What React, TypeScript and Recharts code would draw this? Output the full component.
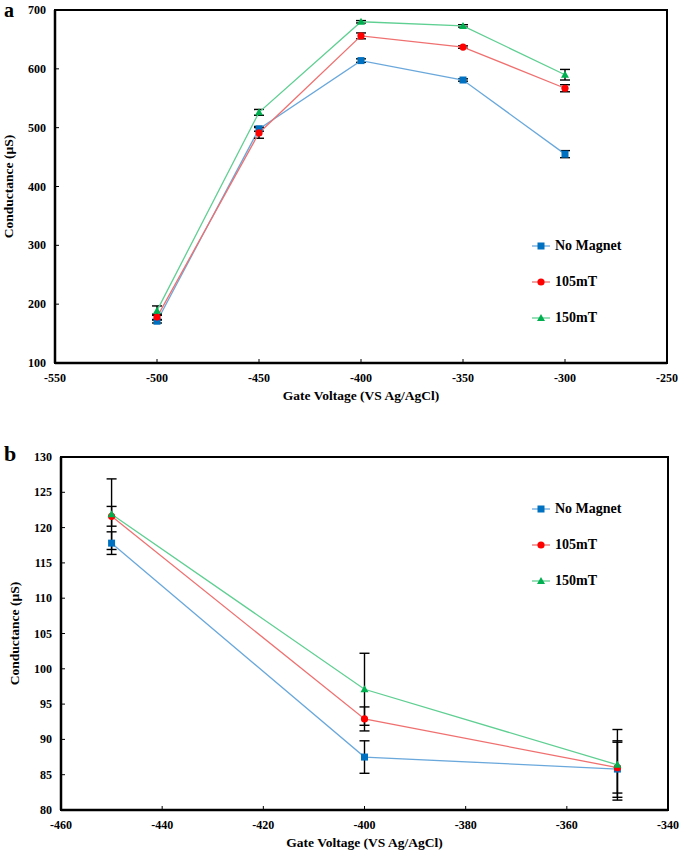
import { LineChart, Line, XAxis, YAxis, ErrorBar, ReferenceArea, Legend, Label } from "recharts";

// panel a
const voltagesA = [-500, -450, -400, -350, -300];
const noMagnetA = [171, 498, 614, 581, 455];
const noMagnetErrA = [3, 4, 3, 2, 6];
const mt105A = [178, 491, 656, 637, 567];
const mt105ErrA = [5, 9, 5, 2, 6];
const mt150A = [189, 526, 680, 673, 590];
const mt150ErrA = [8, 5, 2, 2, 9];
const xTicksA = [-550, -500, -450, -400, -350, -300, -250];
const yTicksA = [100, 200, 300, 400, 500, 600, 700];

// panel b
const voltagesB = [-450, -400, -350];
const noMagnetB = [117.8, 87.5, 85.8];
const noMagnetErrB = [1.6, 2.3, 4.0];
const mt105B = [121.6, 92.9, 86.0];
const mt105ErrB = [1.4, 1.7, 3.6];
const mt150B = [121.9, 97.1, 86.4];
const mt150ErrB = [5.0, 5.1, 5.0];
const xTicksB = [-460, -440, -420, -400, -380, -360, -340];
const yTicksB = [80, 85, 90, 95, 100, 105, 110, 115, 120, 125, 130];

const seriesNames = ["No Magnet", "105mT", "150mT"];

const FONT = "Liberation Serif, Times New Roman, serif";

const styles = [
  { line: "#6aa8dc", marker: "#0070c0", shape: "square" },
  { line: "#f07070", marker: "#ff0000", shape: "circle" },
  { line: "#5fcf92", marker: "#00b050", shape: "triangle" },
];

const toRows = (xs: number[], ys: number[], es: number[]) =>
  xs.map((x, i) => ({ x, y: ys[i], err: es[i] }));

function Marker({ cx, cy, shape, color }: { cx: number; cy: number; shape: string; color: string }) {
  if (shape === "square") return <rect x={cx - 3.5} y={cy - 3.5} width={7} height={7} fill={color} />;
  if (shape === "circle") return <circle cx={cx} cy={cy} r={3.6} fill={color} />;
  return <polygon points={`${cx},${cy - 4} ${cx - 4},${cy + 3} ${cx + 4},${cy + 3}`} fill={color} />;
}

const makeDot = (shape: string, color: string) => (props: any) =>
  <Marker key={`${props.cx}-${props.cy}`} cx={props.cx} cy={props.cy} shape={shape} color={color} />;

const XTick = (props: any) => {
  const { x, y, payload } = props;
  return (
    <g>
      <line x1={x} x2={x} y1={y} y2={y - 4} stroke="#000" strokeWidth={1} />
      <text x={x} y={y + 19} textAnchor="middle" fontFamily={FONT} fontWeight="bold" fontSize={12} fill="#000">
        {payload.value}
      </text>
    </g>
  );
};

const YTick = (props: any) => {
  const { x, y, payload } = props;
  return (
    <g>
      <line x1={x} x2={x + 4} y1={y} y2={y} stroke="#000" strokeWidth={1} />
      <text x={x - 9} y={y + 4} textAnchor="end" fontFamily={FONT} fontWeight="bold" fontSize={12} fill="#000">
        {payload.value}
      </text>
    </g>
  );
};

const LegendBox = () => (
  <div style={{ fontFamily: FONT, fontWeight: "bold", fontSize: 14, color: "#000" }}>
    {seriesNames.map((name, i) => (
      <div key={name} style={{ display: "flex", alignItems: "center", height: 36 }}>
        <svg width={20} height={12} style={{ marginRight: 4 }}>
          <line x1={1} x2={19} y1={6} y2={6} stroke={styles[i].line} strokeWidth={1.3} />
          <Marker cx={10} cy={6} shape={styles[i].shape} color={styles[i].marker} />
        </svg>
        <span>{name}</span>
      </div>
    ))}
  </div>
);

interface PanelProps {
  xs: number[];
  series: number[][];
  errs: number[][];
  xTicks: number[];
  yTicks: number[];
  width: number;
  height: number;
  margin: { top: number; right: number; bottom: number; left: number };
  legendPos: { left: number; top: number };
}

function Panel({ xs, series, errs, xTicks, yTicks, width, height, margin, legendPos }: PanelProps) {
  const xDomain = [xTicks[0], xTicks[xTicks.length - 1]];
  const yDomain = [yTicks[0], yTicks[yTicks.length - 1]];
  return (
    <LineChart width={width} height={height} margin={margin}>
      <XAxis
        type="number"
        dataKey="x"
        domain={xDomain}
        ticks={xTicks}
        allowDataOverflow
        height={40}
        tickSize={0}
        tickMargin={0}
        tickLine={false}
        tick={<XTick />}
        axisLine={{ stroke: "#000", strokeWidth: 2.5 }}
      >
        <Label
          value="Gate Voltage (VS Ag/AgCl)"
          position="insideBottom"
          offset={3}
          style={{ fontFamily: FONT, fontWeight: "bold", fontSize: 13.5, fill: "#000" }}
        />
      </XAxis>
      <YAxis
        type="number"
        domain={yDomain}
        ticks={yTicks}
        allowDataOverflow
        width={50}
        tickSize={0}
        tickMargin={0}
        tickLine={false}
        tick={<YTick />}
        axisLine={{ stroke: "#000", strokeWidth: 2.5 }}
      >
        <Label
          value="Conductance (µS)"
          angle={-90}
          position="insideLeft"
          offset={3}
          style={{ textAnchor: "middle", fontFamily: FONT, fontWeight: "bold", fontSize: 13.5, fill: "#000" }}
        />
      </YAxis>
      <ReferenceArea x1={xDomain[0]} x2={xDomain[1]} y1={yDomain[0]} y2={yDomain[1]} fill="none" stroke="#000" strokeWidth={2} />
      {series.map((vals, i) => (
        <Line
          key={seriesNames[i]}
          name={seriesNames[i]}
          data={toRows(xs, vals, errs[i])}
          dataKey="y"
          type="linear"
          stroke={styles[i].line}
          strokeWidth={1.3}
          dot={makeDot(styles[i].shape, styles[i].marker)}
          activeDot={false}
          isAnimationActive={false}
        >
          <ErrorBar dataKey="err" direction="y" width={5} stroke="#000" strokeWidth={1.4} isAnimationActive={false} />
        </Line>
      ))}
      <Legend
        layout="vertical"
        align="center"
        verticalAlign="middle"
        content={<LegendBox />}
        wrapperStyle={{ position: "absolute", left: legendPos.left, top: legendPos.top, width: "auto" }}
      />
    </LineChart>
  );
}

export default function App() {
  return (
    <div style={{ position: "absolute", left: 0, top: 0, width: 685, height: 853, background: "#fff" }}>
      <div style={{ position: "absolute", left: 4, top: 0, fontFamily: FONT, fontWeight: "bold", fontSize: 20, lineHeight: "20px" }}>a</div>
      <div style={{ position: "absolute", left: 0, top: 0 }}>
        <Panel
          xs={voltagesA}
          series={[noMagnetA, mt105A, mt150A]}
          errs={[noMagnetErrA, mt105ErrA, mt150ErrA]}
          xTicks={xTicksA}
          yTicks={yTicksA}
          width={685}
          height={420}
          margin={{ top: 10, right: 18, bottom: 17, left: 5 }}
          legendPos={{ left: 531, top: 228 }}
        />
      </div>
      <div style={{ position: "absolute", left: 4, top: 443, fontFamily: FONT, fontWeight: "bold", fontSize: 22, lineHeight: "22px" }}>b</div>
      <div style={{ position: "absolute", left: 0, top: 430 }}>
        <Panel
          xs={voltagesB}
          series={[noMagnetB, mt105B, mt150B]}
          errs={[noMagnetErrB, mt105ErrB, mt150ErrB]}
          xTicks={xTicksB}
          yTicks={yTicksB}
          width={685}
          height={423}
          margin={{ top: 27, right: 17, bottom: 3, left: 11 }}
          legendPos={{ left: 531, top: 61 }}
        />
      </div>
    </div>
  );
}
